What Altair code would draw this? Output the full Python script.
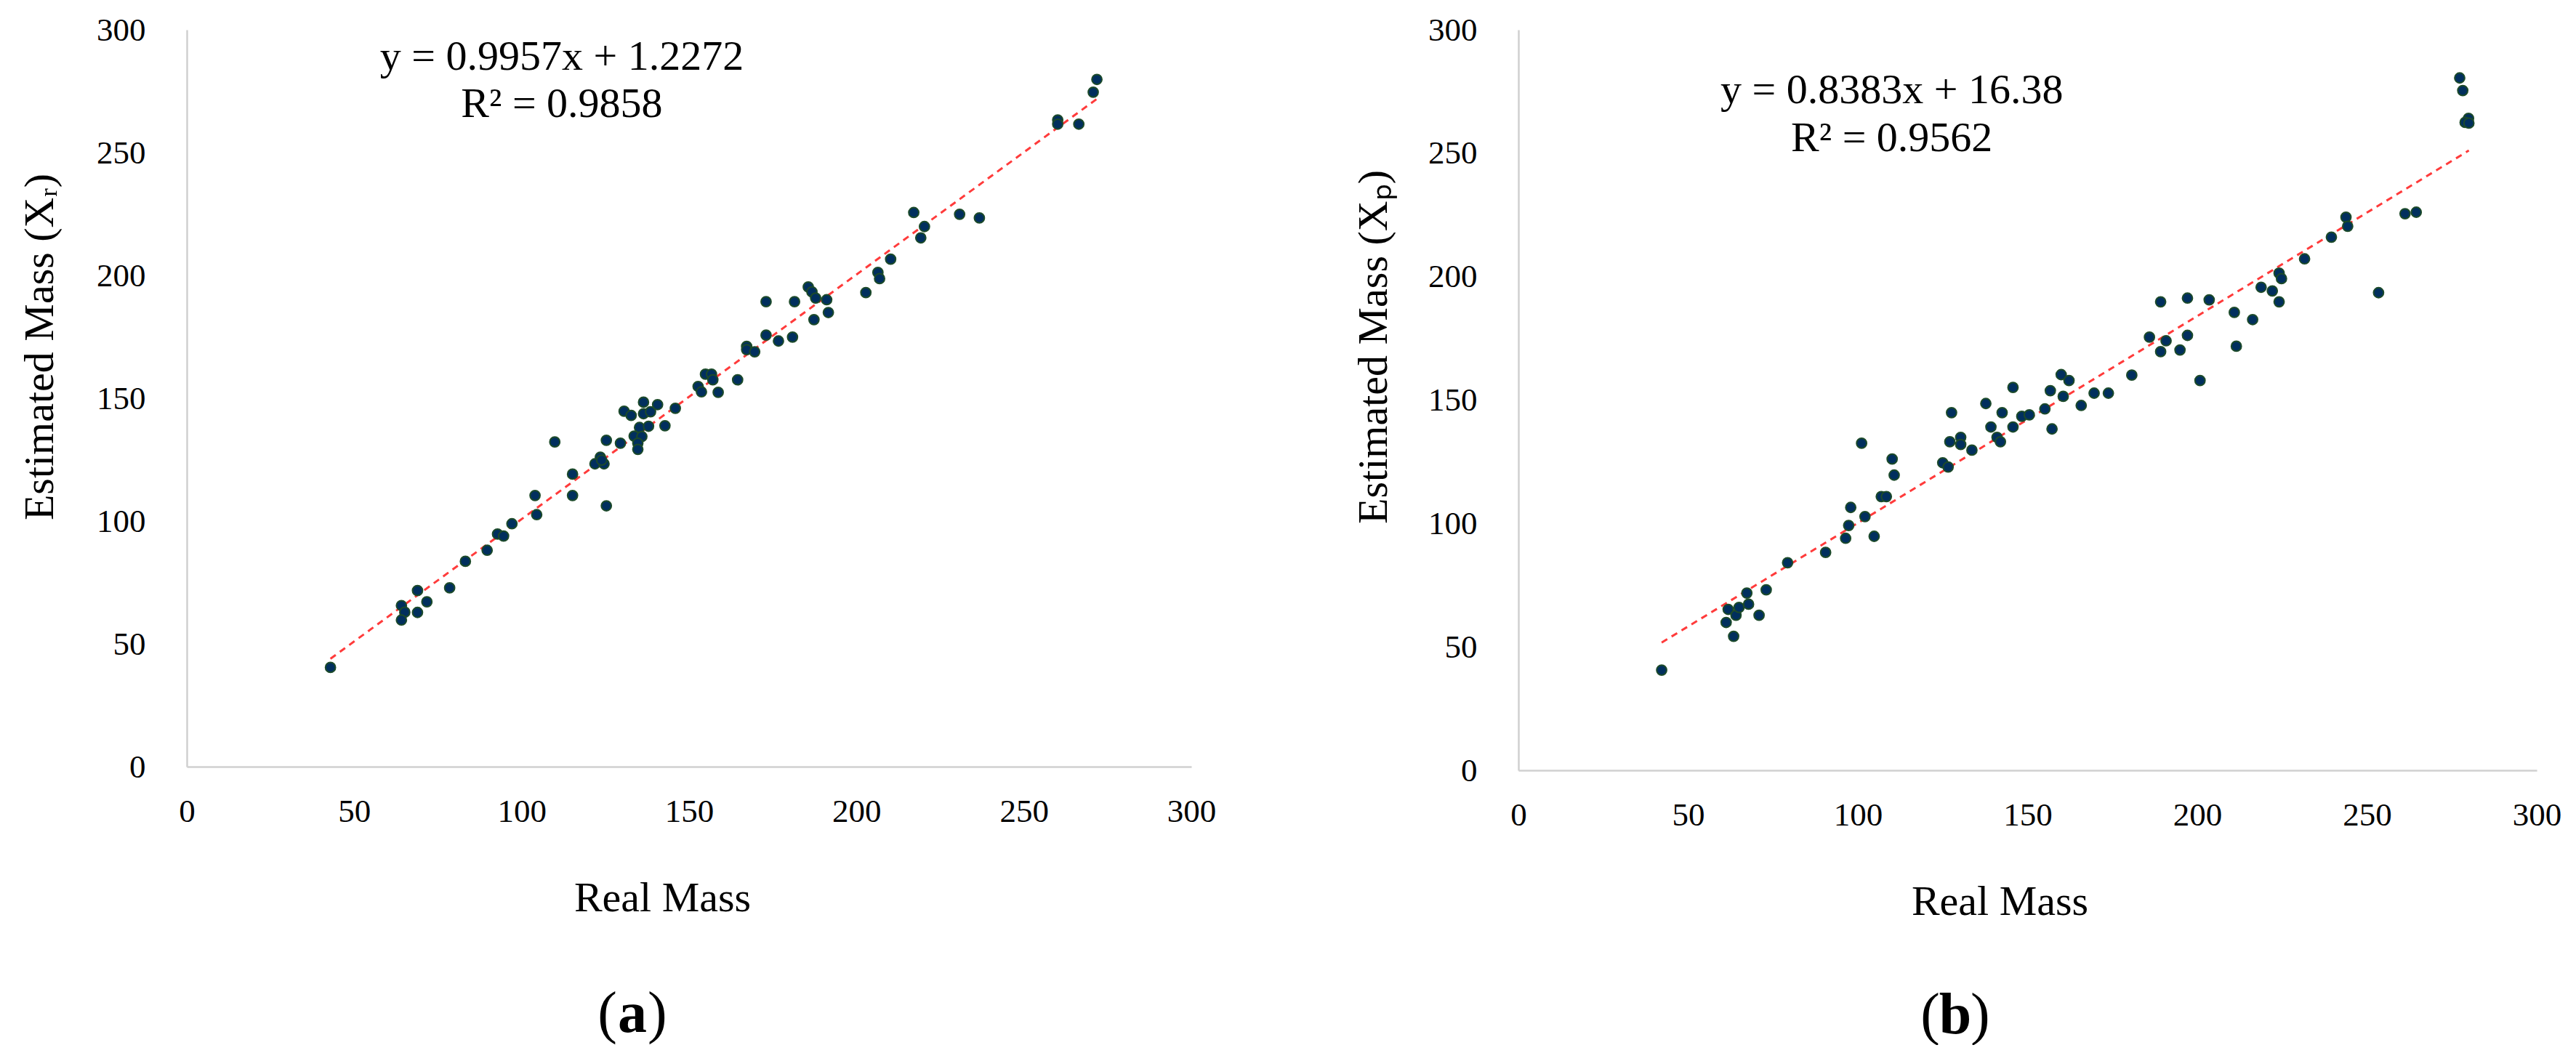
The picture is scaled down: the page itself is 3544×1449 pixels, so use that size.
import altair as alt
import pandas as pd

# ---------------- data ----------------
real_a = [42.9, 64.1, 65.1, 64.1, 68.9, 68.9, 71.7, 78.5, 83.2, 89.7, 92.8, 94.6, 97.1, 104.0, 104.5, 115.2, 115.2,
          109.9, 125.3, 125.3, 129.5, 123.5, 121.9, 124.6, 123.9, 130.6, 132.7, 136.4, 140.6, 136.4, 138.5, 135.2,
          137.9, 133.6, 135.9, 134.7, 134.7, 142.8, 145.9, 152.7, 153.7, 154.9, 156.7, 157.1, 158.7, 164.5, 167.2,
          167.2, 169.6, 173.0, 173.0, 176.7, 180.9, 181.5, 185.6, 186.7, 187.8, 191.1, 187.3, 191.6,
          202.8, 206.4, 206.9, 210.2, 217.1, 220.3, 219.2, 230.8, 236.7, 260.1, 260.1, 266.4, 270.7, 271.8]
est_a = [40.4, 65.6, 62.9, 59.7, 71.7, 62.8, 67.1, 72.8, 83.6, 88.1, 94.7, 93.9, 98.9, 110.4, 102.6, 119.1, 110.4,
         132.2, 106.2, 132.9, 131.7, 126.0, 123.3, 123.3, 124.8, 144.7, 143.0, 148.4, 147.4, 143.7, 144.5, 138.1,
         138.6, 134.6, 134.4, 131.7, 129.2, 138.8, 145.9, 154.8, 152.6, 159.8, 159.8, 157.5, 152.4, 157.5, 171.1,
         169.8, 168.9, 175.7, 189.3, 173.3, 174.9, 189.3, 195.3, 193.3, 190.8, 190.1, 182.0, 184.9,
         193.0, 201.2, 198.7, 206.6, 225.6, 219.9, 215.3, 224.9, 223.4, 263.3, 261.6, 261.6, 274.6, 279.8]

real_b = [42.2, 63.4, 61.2, 61.8, 64.1, 65.0, 67.8, 67.3, 70.9, 73.0, 79.3, 90.5, 96.4, 97.3, 102.1, 97.9, 104.8,
          106.9, 108.4, 110.7, 110.1, 101.1,
          125.0, 126.6, 127.6, 127.1, 130.3, 130.3, 133.6, 137.7, 139.2, 142.5, 141.0, 142.0, 145.7, 145.7, 148.3,
          150.5, 155.1, 157.2, 156.7, 159.9, 162.2, 160.5, 165.8, 169.6, 173.8, 180.7, 185.9, 189.2, 189.2, 190.8,
          194.9, 197.1, 197.1, 200.8, 203.5,
          210.9, 211.5, 216.3, 218.8, 222.1, 224.1, 224.1, 224.8, 231.6, 239.5, 243.8, 244.3, 253.4, 261.2, 264.5,
          277.3, 278.2, 279.9, 278.9, 280.0]
est_b = [40.6, 54.3, 59.9, 65.2, 62.8, 66.0, 67.3, 71.8, 62.8, 73.1, 84.1, 88.3, 94.0, 99.2, 102.8, 106.5, 94.8,
         110.9, 110.9, 119.6, 126.1, 132.5,
         124.6, 122.9, 144.9, 133.1, 134.9, 132.0, 129.7, 148.6, 139.1, 144.9, 134.9, 133.1, 139.1, 155.1, 143.4,
         144.0, 146.4, 138.3, 153.8, 160.3, 157.9, 151.5, 147.8, 152.8, 152.8, 160.1, 175.5, 189.8, 169.6, 174.0,
         170.3, 176.2, 191.3, 157.9, 190.6,
         185.5, 171.8, 182.6, 195.7, 194.2, 189.8, 201.4, 199.2, 207.2, 216.0, 224.1, 220.4, 193.5, 225.5, 226.1,
         280.5, 275.4, 264.1, 262.5, 262.2]

fit_a = (0.9957, 1.2272)
fit_b = (0.8383, 16.38)
eq_text_a = ["y = 0.9957x + 1.2272", "R² = 0.9858"]
eq_text_b = ["y = 0.8383x + 16.38", "R² = 0.9562"]
eq_pos_a = ([112, 112], [288.8, 269.5])
eq_pos_b = ([110, 110], [275.2, 255.8])
y_title_a = "Estimated Mass (Xᵣ)"
y_title_b = "Estimated Mass (Xₚ)"
x_title = "Real Mass"
tick_values = [0, 50, 100, 150, 200, 250, 300]
letters = ["a", "b"]

FONT = "Liberation Serif"
POINT_FILL = "#012F5E"
POINT_EDGE = "#1C4A2A"
LINE_RED = "#FF3B3B"


def panel(real, est, fit, eq_text, eq_pos, y_title, letter, width, height,
          y_title_pad, x_title_x, letter_x, letter_y):
    df = pd.DataFrame({"real": real, "est": est})
    xs = alt.Scale(domain=[0, 300], nice=False, zero=True)
    ys = alt.Scale(domain=[0, 300], nice=False, zero=True)

    x_axis = alt.Axis(values=tick_values, title=x_title, titleX=x_title_x,
                      labelPadding=39, titlePadding=68, labelFlush=False)
    y_axis = alt.Axis(values=tick_values, title=y_title, titleY=436,
                      labelPadding=57, titlePadding=y_title_pad, labelFlush=False)

    def xe():
        return alt.X("real:Q", scale=xs, axis=x_axis)

    def ye():
        return alt.Y("est:Q", scale=ys, axis=y_axis)

    pts = alt.Chart(df).mark_point(
        shape="circle", filled=True, size=190, fill=POINT_FILL, stroke=POINT_EDGE,
        strokeWidth=2, opacity=1, fillOpacity=1, strokeOpacity=1
    ).encode(x=xe(), y=ye())

    slope, intercept = fit
    lo, hi = min(real), max(real)
    line_df = pd.DataFrame({"real": [lo, hi], "est": [slope * lo + intercept, slope * hi + intercept]})
    trend = alt.Chart(line_df).mark_line(
        color=LINE_RED, strokeWidth=3, strokeDash=[9, 7]
    ).encode(x=xe(), y=ye())

    eq_df = pd.DataFrame({"real": eq_pos[0], "est": eq_pos[1], "label": eq_text})
    eq = alt.Chart(eq_df).mark_text(
        font=FONT, fontSize=58, color="black", align="center", baseline="middle"
    ).encode(x=xe(), y=ye(), text="label:N")

    lab_df = pd.DataFrame({"t": [letter]})
    lp = alt.Chart(lab_df).mark_text(
        text="(", font=FONT, fontSize=80, color="black", align="right", baseline="middle"
    ).encode(x=alt.value(letter_x - 21), y=alt.value(letter_y))
    lm = alt.Chart(lab_df).mark_text(
        font=FONT, fontSize=80, fontWeight="bold", color="black", align="center", baseline="middle"
    ).encode(x=alt.value(letter_x), y=alt.value(letter_y), text="t:N")
    rp = alt.Chart(lab_df).mark_text(
        text=")", font=FONT, fontSize=80, color="black", align="left", baseline="middle"
    ).encode(x=alt.value(letter_x + 21), y=alt.value(letter_y))

    return alt.layer(trend, pts, eq, lp, lm, rp).properties(width=width, height=height)


panel_a = panel(real_a, est_a, fit_a, eq_text_a, eq_pos_a, y_title_a, letters[0],
                1382, 1014, 48, 654, 613, 1355)
panel_b = panel(real_b, est_b, fit_b, eq_text_b, eq_pos_b, y_title_b, letters[1],
                1401, 1019, 45, 662, 601, 1357)

chart = alt.hconcat(panel_a, panel_b, spacing=188).configure_view(
    stroke=None
).configure_axis(
    grid=False, ticks=False, tickSize=0,
    domainColor="#D0D0D0", domainWidth=2.5,
    labelFont=FONT, labelFontSize=45, labelColor="black",
    titleFont=FONT, titleFontSize=58, titleFontWeight="normal", titleColor="black"
).properties(
    padding={"left": 18, "top": 11, "right": 5, "bottom": 0},
    background="white"
)

chart.save("out.html", embed_options={"renderer": "svg", "actions": False})
